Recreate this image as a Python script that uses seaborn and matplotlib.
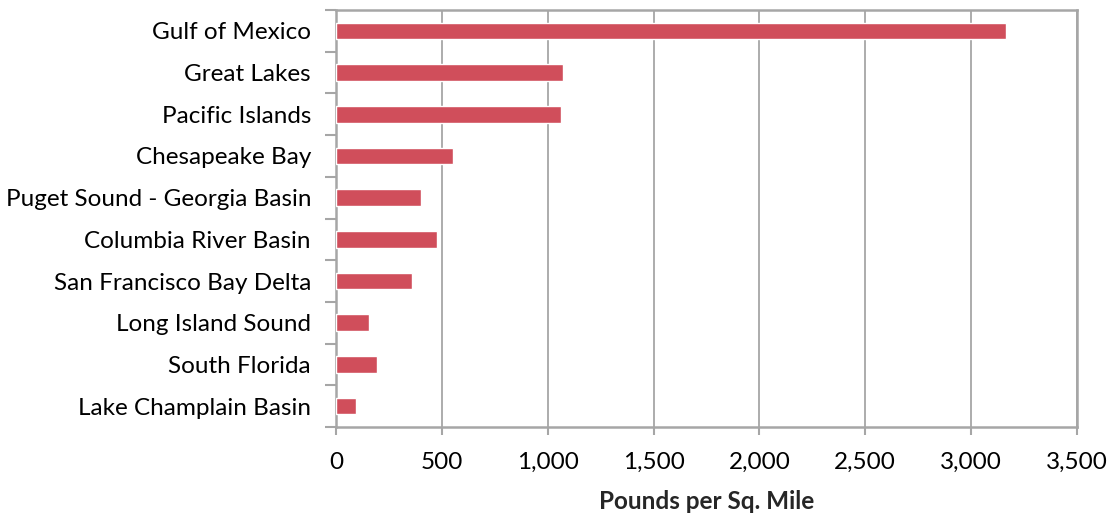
import matplotlib
matplotlib.use("Agg")
import matplotlib.pyplot as plt
import seaborn as sns
import numpy as np
from matplotlib.ticker import FuncFormatter, FixedLocator

categories = ["Gulf of Mexico", "Great Lakes", "Pacific Islands", "Chesapeake Bay",
              "Puget Sound - Georgia Basin", "Columbia River Basin",
              "San Francisco Bay Delta", "Long Island Sound", "South Florida",
              "Lake Champlain Basin"]
values = [3163, 1072, 1061, 554, 402, 478, 357, 156, 193, 96]
xticks = [0, 500, 1000, 1500, 2000, 2500, 3000, 3500]
xlabel = "Pounds per Sq. Mile"

sns.set_style("white")
plt.rcParams['font.family'] = ['Lato', 'DejaVu Sans']

fig = plt.figure(figsize=(11.13, 5.18), dpi=100)
ax = fig.add_axes([336/1113, 1-427/518, (1077-336)/1113, (427-10)/518])

sns.barplot(x=values, y=categories, color="#D04E5B", width=0.4, ax=ax,
            saturation=1, orient="h", zorder=3)

ax.set_xlim(0, 3500)
ax.set_ylim(len(categories)-0.5, -0.5)
ax.set_xticks(xticks)
ax.xaxis.set_major_formatter(FuncFormatter(lambda v, p: f"{int(v):,}"))
ax.grid(axis="x", color="#A6A6A6", linewidth=1.3, zorder=0)
ax.set_axisbelow(True)

for s in ax.spines.values():
    s.set_visible(True)
    s.set_color("#A6A6A6")
    s.set_linewidth(1.8)

ax.tick_params(axis="x", length=6, width=1.5, color="#A6A6A6", labelsize=17.5,
               pad=12, labelcolor="#000000", bottom=True)
ax.tick_params(axis="y", which="major", length=0, labelsize=17.5, pad=18, labelcolor="#000000")
ax.yaxis.set_minor_locator(FixedLocator(np.arange(-0.5, len(categories), 1.0)))
ax.tick_params(axis="y", which="minor", length=8, width=1.5, color="#A6A6A6", left=True)

ax.set_xlabel(xlabel, fontsize=17.5, fontweight="bold", labelpad=12)
ax.set_ylabel("")

fig.savefig("out.png", dpi=100)
